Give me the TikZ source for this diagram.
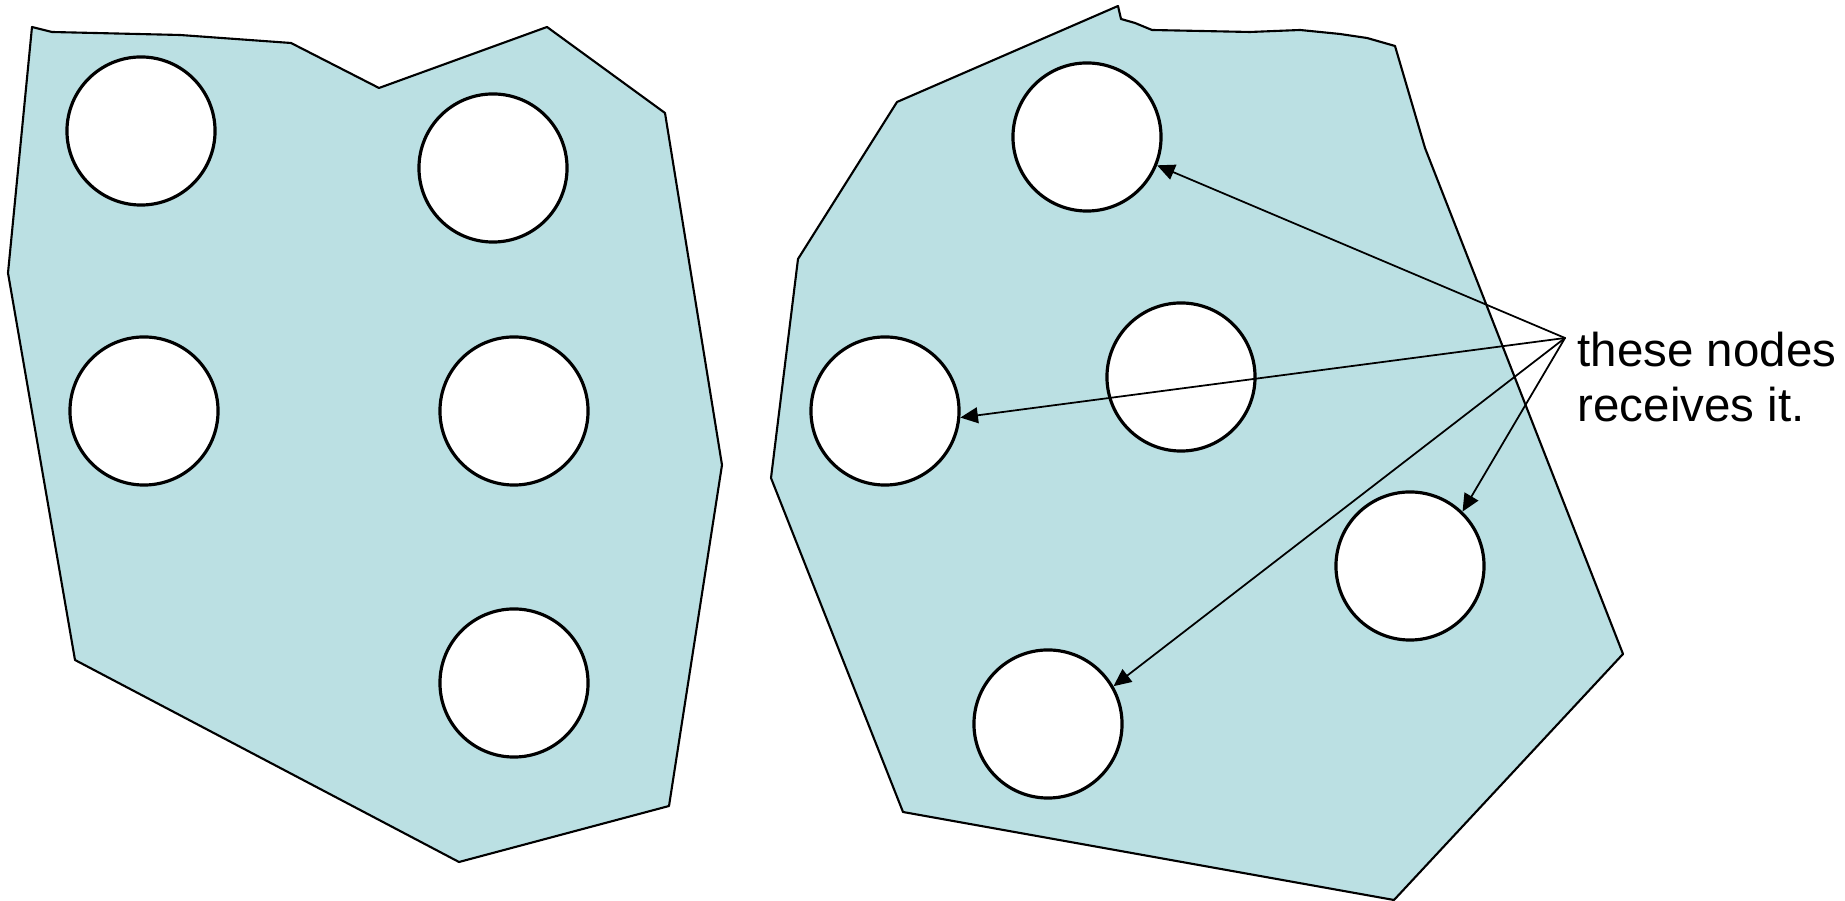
\documentclass[tikz,border=0pt]{standalone}
\usepackage{fontspec}
\setmainfont{Liberation Sans}
\usetikzlibrary{arrows.meta}
\definecolor{regionblue}{RGB}{187,224,227}
\begin{document}
\begin{tikzpicture}[x=0.01cm, y=-0.01cm, line join=round, line cap=round, >={Triangle[length=5pt,width=4.5pt]},
  hole/.style={circle, draw, line width=0.9pt, fill=white, minimum size=1.48cm, inner sep=0pt},
  region/.style={fill=regionblue, draw, line width=0.6pt}]
\useasboundingbox (0,0) rectangle (1845,901);
% left region
\draw[region] (32,27)--(52,32)--(180,35)--(291,43)--(379,88)--(547,27)--(665,113)--(722,465)--(669,806)--(459,862)--(75,660)--(8,273)--cycle;
% right region
\draw[region] (1118,6)--(1121,19)--(1135,23)--(1152,30)--(1250,32)--(1300,30)--(1340,34)--(1367,38)--(1395,46)--(1425,148)--(1623,654)--(1394,900)--(903,812)--(771,478)--(798,259)--(897,102)--cycle;
% holes in the left region
\node[hole] (la) at (141,131) {};
\node[hole] (lb) at (493,168) {};
\node[hole] (lc) at (144,411) {};
\node[hole] (ld) at (514,411) {};
\node[hole] (le) at (514,683) {};
% holes in the right region
\node[hole] (ra) at (1087,137) {};
\node[hole] (rb) at (1181,377) {};
\node[hole] (rc) at (885,411) {};
\node[hole] (rd) at (1410,566) {};
\node[hole] (re) at (1048,724) {};
% label and arrows
\coordinate (src) at (1565,338);
\node[anchor=west, align=left, inner sep=0pt, font=\fontsize{13.5pt}{15.5pt}\selectfont] (lbl) at (1577,377) {these nodes\\receives it.};
\draw[->, line width=0.5pt] (src) -- (ra.-22);
\draw[->, line width=0.5pt] (src) -- (rc.-5);
\draw[->, line width=0.5pt] (src) -- (re.30);
\draw[->, line width=0.5pt] (src) -- (rd.46);
\end{tikzpicture}
\end{document}
